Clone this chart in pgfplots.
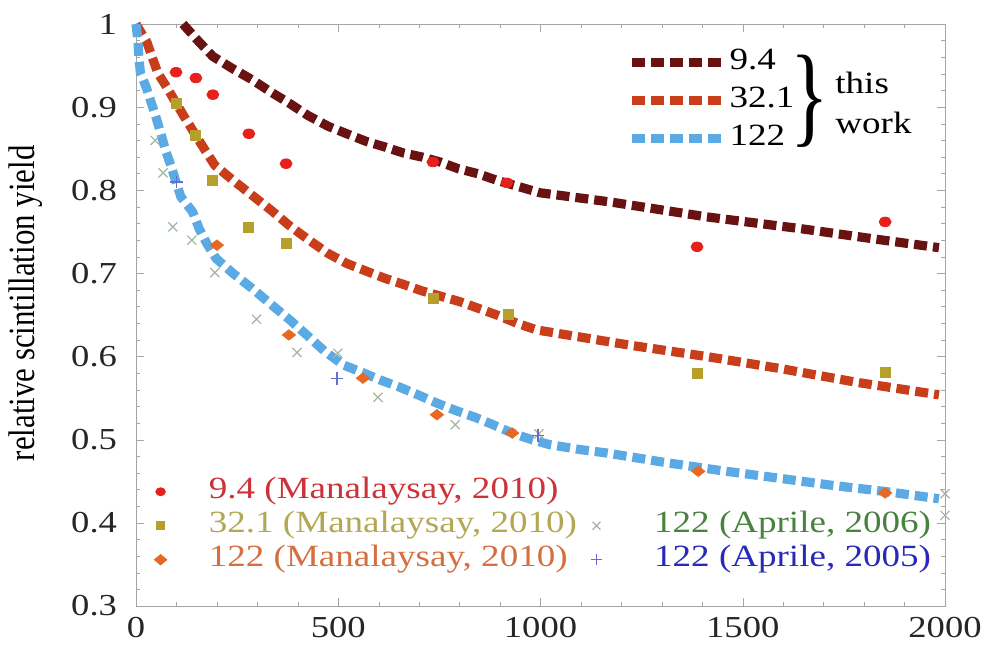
\documentclass[border=0pt]{standalone}
\usepackage{fontspec}
\setmainfont{Liberation Serif}[FakeStretch=1.2]
\newfontfamily\plainserif{Liberation Serif}
\usepackage{pgfplots}
\pgfplotsset{compat=1.18}

\definecolor{c94}{RGB}{105,18,18}
\definecolor{c321}{RGB}{200,62,26}
\definecolor{c122}{RGB}{92,170,228}
\definecolor{mred}{RGB}{232,32,28}
\definecolor{molive}{RGB}{182,160,44}
\definecolor{morange}{RGB}{230,104,34}
\definecolor{mgray}{RGB}{160,182,160}
\definecolor{mblue}{RGB}{100,110,210}
\definecolor{tred}{RGB}{205,50,55}
\definecolor{tolive}{RGB}{178,168,84}
\definecolor{torange}{RGB}{212,112,64}
\definecolor{tgreen}{RGB}{72,130,62}
\definecolor{tblue}{RGB}{40,40,185}
\definecolor{axisgray}{RGB}{165,165,165}

\pgfplotsset{
  base/.style={scale only axis, width=404.5bp, height=291bp,
    xmin=0, xmax=2000, ymin=0.3, ymax=1, clip=false},
  model/.style={line width=4.6bp, dash pattern=on 6.5bp off 3bp, line join=bevel},
}

% this work (model curves)
\pgfplotstableread{
x y
116 1.000
153 0.980
190 0.961
240 0.946
287 0.933
334 0.918
378 0.905
425 0.890
475 0.877
521 0.868
568 0.859
616 0.852
660 0.845
707 0.840
752 0.834
796 0.826
845 0.820
892 0.812
999 0.797
1172 0.786
1411 0.768
1641 0.754
1832 0.741
1985 0.731
}\modelA
\pgfplotstableread{
x y
0 1.000
27 0.978
40 0.960
54 0.941
76 0.924
121 0.887
171 0.848
195 0.830
240 0.812
287 0.794
334 0.776
378 0.758
425 0.741
475 0.724
521 0.712
568 0.703
616 0.694
660 0.687
707 0.679
801 0.666
892 0.650
942 0.640
991 0.632
1217 0.614
1411 0.600
1600 0.585
1782 0.569
1985 0.554
}\modelB
\pgfplotstableread{
x y
0 1.000
5 0.979
7 0.960
11 0.941
26 0.923
38 0.905
50 0.887
61 0.869
73 0.848
86 0.830
99 0.810
111 0.792
140 0.774
156 0.754
175 0.736
198 0.718
240 0.700
287 0.682
331 0.664
378 0.645
422 0.626
465 0.607
512 0.590
559 0.581
603 0.572
653 0.563
697 0.554
744 0.544
791 0.535
838 0.527
883 0.518
930 0.508
979 0.500
1023 0.494
1100 0.488
1164 0.484
1303 0.473
1444 0.463
1585 0.454
1723 0.445
1864 0.437
1985 0.429
}\modelC

% measurements
\pgfplotstableread{
x y
99 0.942
148 0.935
190 0.915
279 0.868
371 0.832
734 0.834
917 0.809
1387 0.732
1852 0.762
}\manA
\pgfplotstableread{
x y
99 0.904
146 0.866
190 0.812
279 0.755
371 0.736
734 0.670
920 0.651
1387 0.580
1852 0.581
}\manB
\pgfplotstableread{
x y
200 0.734
378 0.626
561 0.574
744 0.530
930 0.508
1390 0.462
1852 0.436
}\manC
\pgfplotstableread{
x y
47 0.860
67 0.821
91 0.756
138 0.740
195 0.701
298 0.645
398 0.605
499 0.604
598 0.551
789 0.518
996 0.507
2000 0.435
2000 0.409
}\aprA
\pgfplotstableread{
x y
101 0.810
497 0.574
994 0.505
}\aprB

\begin{document}
\begin{tikzpicture}
\begin{axis}[base,
  xtick={0,500,1000,1500,2000},
  ytick={0.3,0.4,0.5,0.6,0.7,0.8,0.9,1},
  minor x tick num=4, minor y tick num=4,
  tick align=inside, major tick length=4bp, minor tick length=2bp,
  axis line style={draw=axisgray},
  every tick/.append style={axisgray},
  ticklabel style={font=\fontsize{15.3}{18}\selectfont, text=black!85},
  xticklabel style={yshift=-2bp},
  yticklabel style={xshift=-6bp},
  /pgf/number format/assume math mode=true,
  /pgf/number format/1000 sep={},
  ylabel={relative scintillation yield},
  ylabel style={font=\plainserif\fontsize{15.5}{18}\selectfont,
    at={(axis description cs:-0.136,0.52)}, anchor=center, yscale=1.2},
  legend image code/.code={\draw[#1] (0bp,0bp) -- (44.5bp,0bp);},
  legend cell align=left,
  legend style={draw=none, fill=none, inner sep=0pt, row sep=4bp,
    at={(axis description cs:0.607,0.9605)}, anchor=north west,
    nodes={inner sep=0pt, text height=11bp, text depth=4bp,
      font=\fontsize{15.5}{18}\selectfont},
    /tikz/column 1/.style={column sep=2bp}},
]
\addplot[c94, model] table {\modelA};
\addlegendentry{9.4}
\addplot[c321, model] table {\modelB};
\addlegendentry{32.1}
\addplot[c122, model] table {\modelC};
\addlegendentry{122}
\node[font=\plainserif\fontsize{56}{56}\selectfont, xscale=0.72, inner sep=0pt, anchor=center]
  at (axis description cs:0.833,0.867) {\}};
\node[font=\fontsize{15.5}{20}\selectfont, inner sep=0pt, anchor=west, align=left]
  at (axis description cs:0.864,0.865) {this\\work};
\end{axis}
\begin{axis}[base, hide axis,
  legend image code/.code={\draw[only marks,#1] plot coordinates {(0bp,0bp)};},
  legend columns=2,
  legend cell align=left,
  legend style={draw=none, fill=none, inner sep=0pt, row sep=2bp,
    at={(axis description cs:0.0222,0.053)}, anchor=south west,
    nodes={inner sep=0pt, text height=11bp, text depth=4bp,
      font=\fontsize{15.5}{18}\selectfont},
    /tikz/column 1/.style={column sep=21bp},
    /tikz/column 2/.style={column sep=7bp},
    /tikz/column 3/.style={column sep=26bp}},
]
\addplot[forget plot, only marks, mark=*, mark size=2.4bp, color=mred,
  mark options={xscale=1.25}] table {\manA};
\addplot[forget plot, only marks, mark=square*, mark size=2.5bp, color=molive]
  table {\manB};
\addplot[forget plot, only marks, mark=diamond*, mark size=2.6bp, color=morange,
  mark options={xscale=1.7}] table {\manC};
\addplot[forget plot, only marks, mark=x, mark size=3.2bp, color=mgray,
  mark options={line width=0.6bp}] table {\aprA};
\addplot[forget plot, only marks, mark=+, mark size=3.2bp, color=mblue,
  mark options={line width=0.6bp}] table {\aprB};
\addlegendimage{mark=*, mark size=2bp, color=mred, mark options={xscale=1.2}}
\addlegendentry{\textcolor{tred}{9.4 (Manalaysay, 2010)}}
\addlegendimage{empty legend}
\addlegendentry{}
\addlegendimage{mark=square*, mark size=2bp, color=molive}
\addlegendentry{\textcolor{tolive}{32.1 (Manalaysay, 2010)}}
\addlegendimage{mark=x, mark size=2.8bp, color=mgray, mark options={line width=0.6bp}}
\addlegendentry{\textcolor{tgreen}{122 (Aprile, 2006)}}
\addlegendimage{mark=diamond*, mark size=2.6bp, color=morange, mark options={xscale=1.6}}
\addlegendentry{\textcolor{torange}{122 (Manalaysay, 2010)}}
\addlegendimage{mark=+, mark size=2.8bp, color=mblue, mark options={line width=0.6bp}}
\addlegendentry{\textcolor{tblue}{122 (Aprile, 2005)}}
\end{axis}
\pgfresetboundingbox
\useasboundingbox (-68bp,-22.5bp) rectangle (425.5bp,303bp);
\end{tikzpicture}
\end{document}
